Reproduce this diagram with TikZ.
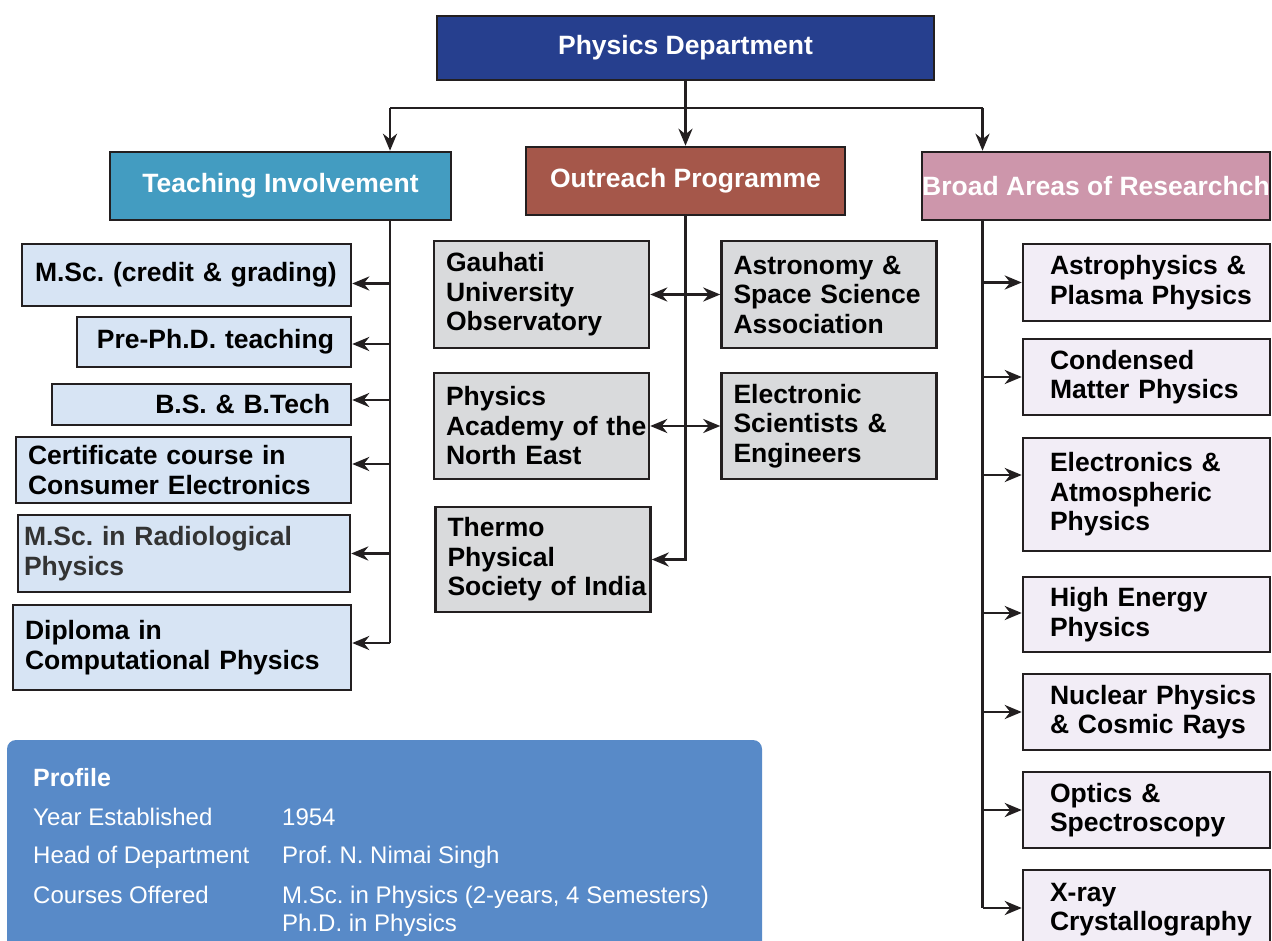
\documentclass[tikz,border=0pt]{standalone}
\usepackage{fontspec}
\setmainfont{Liberation Sans}
\usetikzlibrary{arrows.meta}
\frenchspacing
\hyphenpenalty=10000
\exhyphenpenalty=10000

\definecolor{linec}{HTML}{231F20}
\definecolor{deptc}{HTML}{263F8E}
\definecolor{teachc}{HTML}{439CC1}
\definecolor{outc}{HTML}{A5574A}
\definecolor{broadc}{HTML}{CD96AB}
\definecolor{teachfill}{HTML}{D7E4F4}
\definecolor{outfill}{HTML}{D9DADC}
\definecolor{broadfill}{HTML}{F2EDF6}
\definecolor{profc}{HTML}{588AC8}
\definecolor{radtext}{HTML}{333333}

\tikzset{
  head/.style={draw=linec, line width=2.5pt, text=white, inner sep=0pt,
    font=\fontsize{26.5}{29.5}\selectfont\bfseries},
  item/.style={draw=linec, line width=2.5pt, inner ysep=0pt,
    font=\fontsize{26.5}{29.5}\selectfont\bfseries},
  tbox/.style={item, fill=teachfill},
  obox/.style={item, fill=outfill, align=left, minimum width=215pt,
    inner xsep=12pt, text width=191pt},
  rbox/.style={item, fill=broadfill, align=left, minimum width=247pt,
    inner xsep=27pt, text width=193pt},
  conn/.style={draw=linec, line width=2.8pt},
  tip/.style={conn, -{Stealth[length=17pt,width=14pt,inset=5.5pt]}},
  dtip/.style={conn, {Stealth[length=17pt,width=14pt,inset=5.5pt]}-{Stealth[length=17pt,width=14pt,inset=5.5pt]}},
  ptext/.style={text=white, inner sep=0pt, anchor=base west,
    font=\fontsize{24}{28}\selectfont},
}

\begin{document}
\begin{tikzpicture}[x=1pt, y=-1pt]
		\path[use as bounding box, fill=white] (0,0) rectangle (1272,941);
		
		% heads
		\node[head, fill=deptc, minimum width=497pt, minimum height=64pt] (dept) at (685.5,48) {Physics Department};
		\node[head, fill=teachc, minimum width=341pt, minimum height=68pt] (teach) at (280.5,186) {Teaching Involvement};
		\node[head, fill=outc, minimum width=319pt, minimum height=68pt] (out) at (685.5,181) {Outreach Programme};
		\node[head, fill=broadc, minimum width=348pt, minimum height=68pt] (broad) at (1096,186) {Broad Areas of Researchch};
		
		% teaching
		\node[tbox, minimum width=329pt, minimum height=62pt, inner xsep=13pt, text width=303pt, align=left] (msc) at (186.5,275) {M.Sc. (credit \& grading)};
		\node[tbox, minimum width=274pt, minimum height=50pt, inner xsep=17pt, text width=240pt, align=right] (pre) at (214,342) {Pre-Ph.D. teaching};
		\node[tbox, minimum width=299pt, minimum height=41pt, inner xsep=21pt, text width=257pt, align=right] (bs) at (201.5,404.5) {B.S. \& B.Tech};
		\node[tbox, minimum width=335pt, minimum height=66pt, inner xsep=12pt, text width=311pt, align=left] (cert) at (183.5,470) {Certificate course in\\Consumer Electronics};
		\node[tbox, minimum width=332pt, minimum height=77pt, inner xsep=6pt, text width=320pt, align=left, text=radtext] (rad) at (184,553.5) {M.Sc. in Radiological\\Physics};
		\node[tbox, minimum width=338pt, minimum height=85pt, inner xsep=12pt, text width=314pt, align=left] (dip) at (182,647.5) {Diploma in\\Computational Physics};
		
		% outreach
		\node[obox, minimum height=107pt] (gau) at (541.5,294.5) {Gauhati\\University\\Observatory};
		\node[obox, minimum height=107pt] (ass) at (829,294.5) {Astronomy \&\\Space Science\\Association};
		\node[obox, minimum height=106pt] (pan) at (541.5,426) {Physics\\Academy~of~the\\North East};
		\node[obox, minimum height=106pt] (ese) at (829,426) {Electronic\\Scientists \&\\Engineers};
		\node[obox, minimum height=105pt] (tps) at (543,559.5) {Thermo\\Physical\\Society~of~India};
		
		% research
		\node[rbox, minimum height=77pt] (ap) at (1146.5,282.5) {Astrophysics~\&\\Plasma~Physics};
		\node[rbox, minimum height=76pt] (cm) at (1146.5,377) {Condensed\\Matter Physics};
		\node[rbox, minimum height=113pt] (eap) at (1146.5,494.5) {Electronics \&\\Atmospheric\\Physics};
		\node[rbox, minimum height=75pt] (he) at (1146.5,614.5) {High Energy\\Physics};
		\node[rbox, minimum height=76pt] (np) at (1146.5,712) {Nuclear~Physics\\\&~Cosmic~Rays};
		\node[rbox, minimum height=76pt] (os) at (1146.5,810) {Optics \&\\Spectroscopy};
		\node[rbox, minimum height=79pt] (xr) at (1146.5,909.5) {X-ray\\Crystallography};
		
		% connectors
		\coordinate (lbus) at (390,108);
		\coordinate (rbus) at (982.5,108);
		\draw[conn] (lbus) -- (rbus);
		\draw[tip] (dept.south) -- (out.north);
		\draw[tip] (lbus) -- (lbus |- teach.north);
		\draw[tip] (rbus) -- (rbus |- broad.north);
		
		\draw[conn] (lbus |- teach.south) -- ([yshift=4.5pt]dip.east -| lbus);
		\foreach \n/\s in {msc/-8.5, pre/-2, bs/4.5, cert/6, rad/0, dip/4.5}
			\draw[tip] ([yshift=\s pt]\n.east -| lbus) -- ([yshift=\s pt]\n.east);
		
		\draw[tip] (out.south) |- (tps.east);
		\draw[dtip] (gau.east) -- (ass.west);
		\draw[dtip] (pan.east) -- (ese.west);
		
		\draw[conn] (rbus |- broad.south) -- ([yshift=1.5pt]xr.west -| rbus);
		\foreach \n/\s in {ap/0, cm/0, eap/19.5, he/1.5, np/0, os/0, xr/1.5}
			\draw[tip] ([yshift=\s pt]\n.west -| rbus) -- ([yshift=\s pt]\n.west);
		
		% profile
		\fill[profc, rounded corners=9pt] (7,740) rectangle (762,970);
		\node[ptext, font=\fontsize{25}{28}\selectfont\bfseries] (prof) at (33,786) {Profile};
		\node[ptext] (year) at (33,825) {Year Established};
		\node[ptext] (yearv) at (282,825) {1954};
		\node[ptext] (head) at (33,863) {Head of Department};
		\node[ptext] (headv) at (282,863) {Prof. N. Nimai Singh};
		\node[ptext] (crs) at (33,903) {Courses Offered};
		\node[ptext] (crsv) at (282,903) {M.Sc. in Physics (2-years, 4 Semesters)};
		\node[ptext] (crsw) at (282,931) {Ph.D. in Physics};
\end{tikzpicture}
\end{document}
